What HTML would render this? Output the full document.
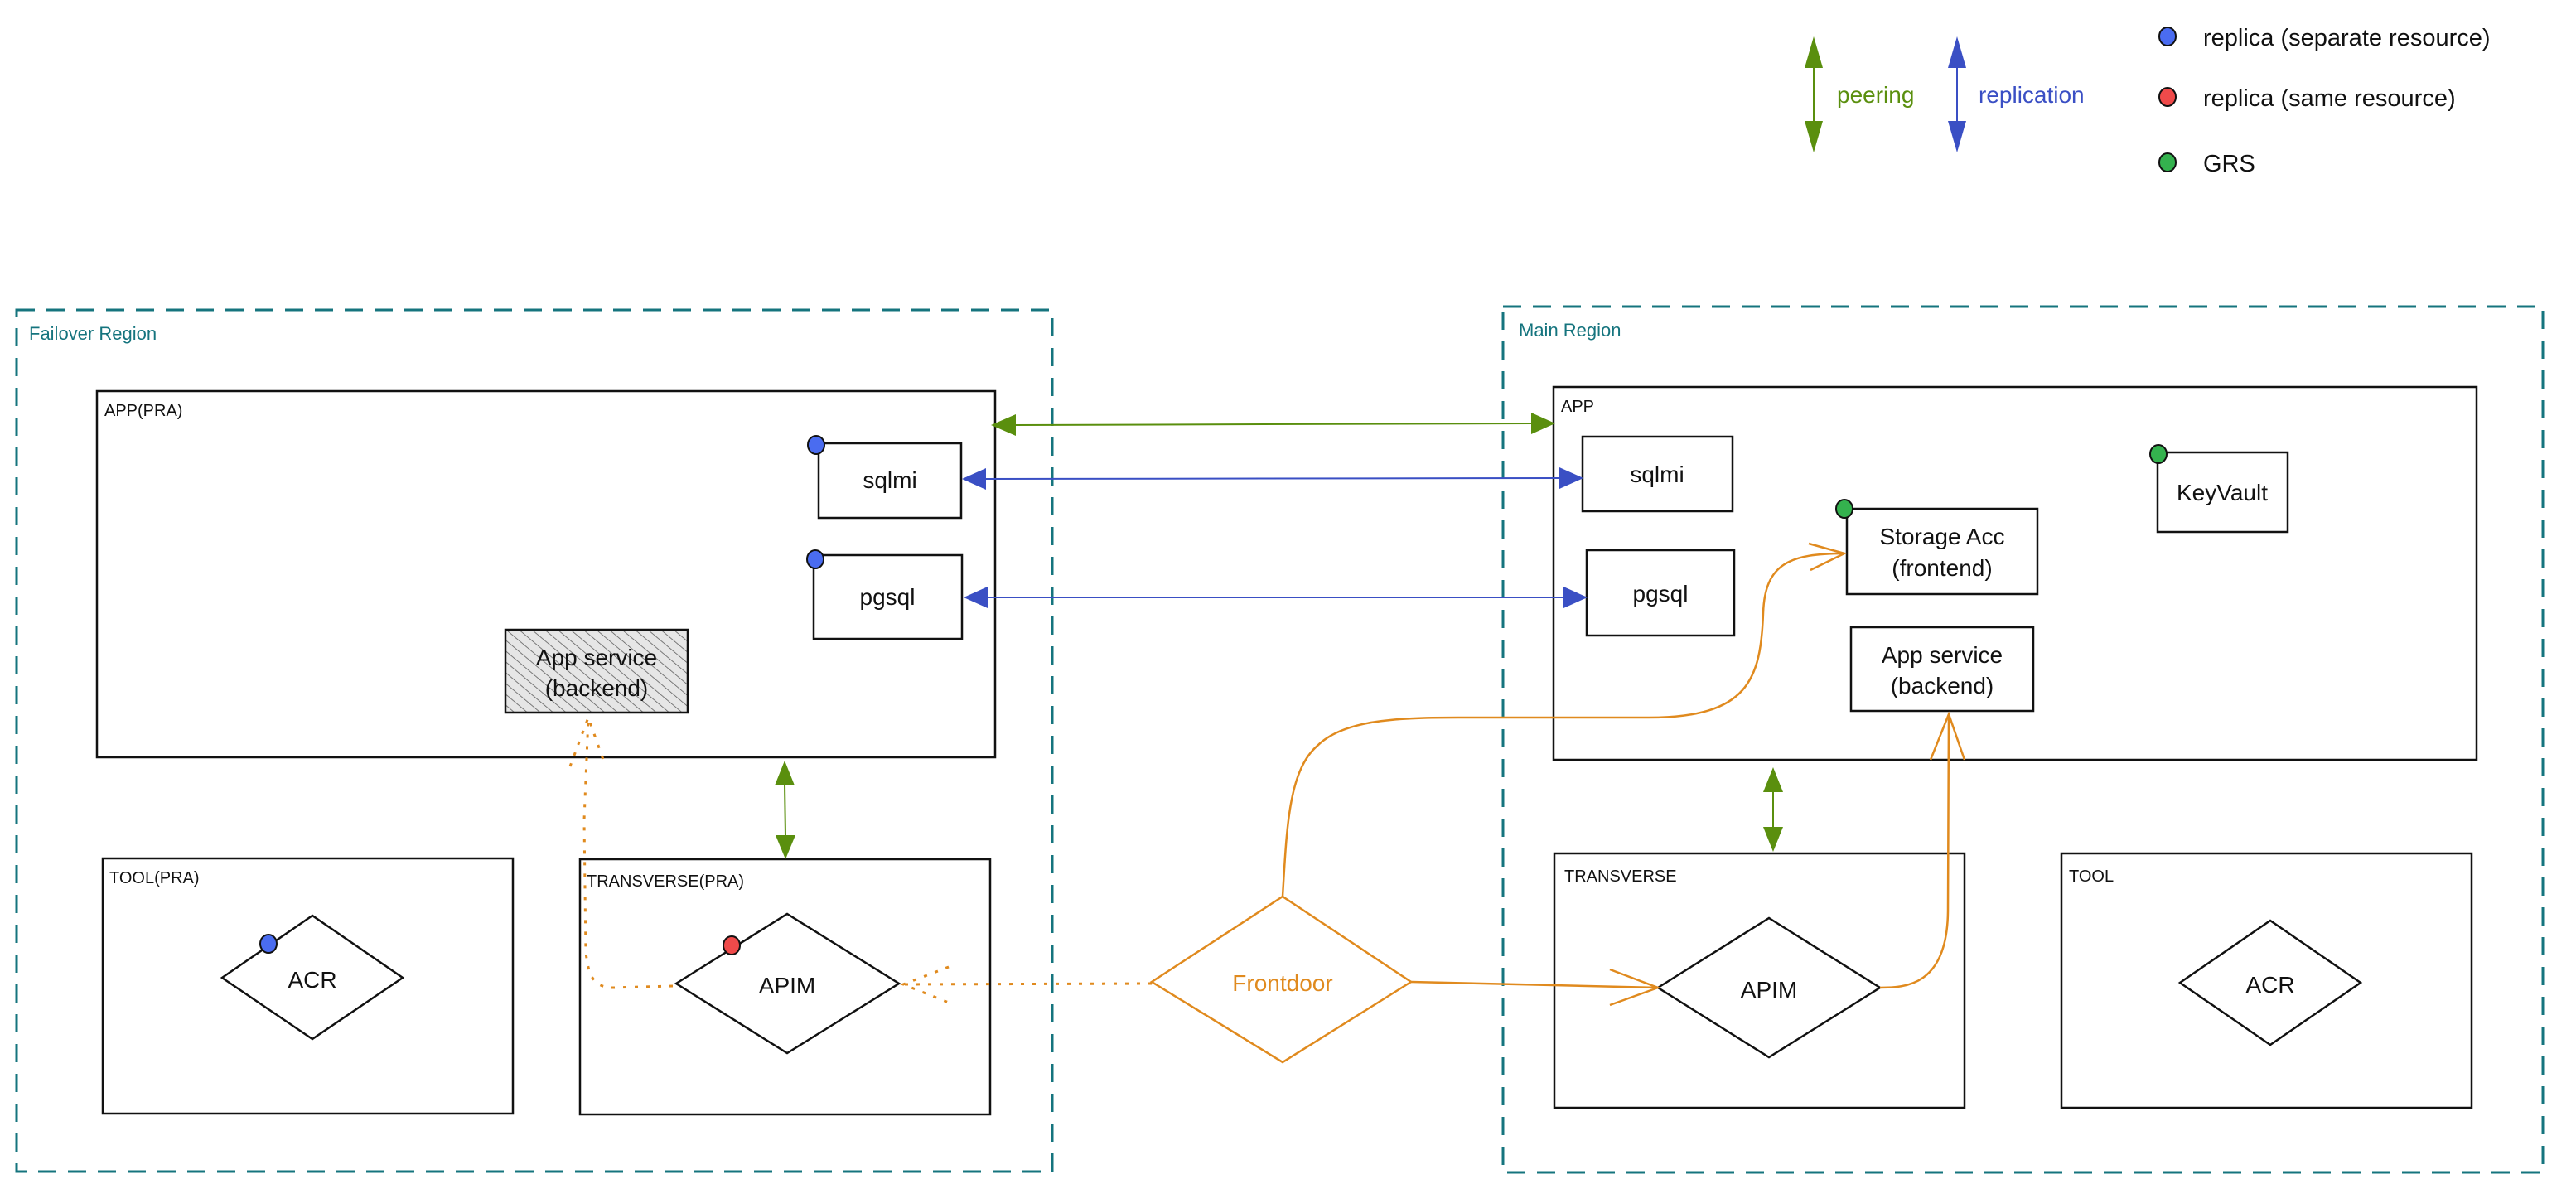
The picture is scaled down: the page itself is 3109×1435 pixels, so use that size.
<!DOCTYPE html>
<html><head><meta charset="utf-8"><style>
html,body{margin:0;padding:0;background:#fff;}
svg{display:block;}
text{font-family:"Liberation Sans",sans-serif;}
</style></head><body>
<svg width="3109" height="1435" viewBox="0 0 3109 1435" xmlns="http://www.w3.org/2000/svg">
<defs>
<pattern id="hatch" patternUnits="userSpaceOnUse" width="10" height="10" patternTransform="rotate(-50)">
<rect width="10" height="10" fill="#e6e6e6"/>
<line x1="0" y1="0" x2="0" y2="10" stroke="#555" stroke-width="1.5"/>
</pattern>
</defs>
<rect width="3109" height="1435" fill="#fff"/>

<!-- Legend -->
<g>
<line x1="2189" y1="80" x2="2189" y2="150" stroke="#5a8f0e" stroke-width="2"/>
<polygon points="2189,44 2178,82 2200,82" fill="#5a8f0e"/>
<polygon points="2189,184 2178,146 2200,146" fill="#5a8f0e"/>
<text x="2217" y="124" font-size="28" fill="#5a8f0e">peering</text>
<line x1="2362" y1="80" x2="2362" y2="150" stroke="#3a4fc4" stroke-width="2"/>
<polygon points="2362,44 2351,82 2373,82" fill="#3a4fc4"/>
<polygon points="2362,184 2351,146 2373,146" fill="#3a4fc4"/>
<text x="2388" y="124" font-size="28" fill="#3a4fc4">replication</text>
<ellipse cx="2616" cy="44" rx="10" ry="11" fill="#4a6cf0" stroke="#111" stroke-width="2"/>
<ellipse cx="2616" cy="117" rx="10" ry="11" fill="#ef4a4a" stroke="#111" stroke-width="2"/>
<ellipse cx="2616" cy="196" rx="10" ry="11" fill="#34b24e" stroke="#111" stroke-width="2"/>
<text x="2659" y="55" font-size="29" fill="#111">replica (separate resource)</text>
<text x="2659" y="128" font-size="29" fill="#111">replica (same resource)</text>
<text x="2659" y="207" font-size="29" fill="#111">GRS</text>
</g>

<!-- Regions -->
<rect x="20" y="374" width="1250" height="1040" fill="none" stroke="#15747e" stroke-width="3" stroke-dasharray="22,14"/>
<text x="35" y="410" font-size="22" fill="#15747e">Failover Region</text>
<rect x="1814" y="370" width="1255" height="1045" fill="none" stroke="#15747e" stroke-width="3" stroke-dasharray="22,14"/>
<text x="1833" y="406" font-size="22" fill="#15747e">Main Region</text>

<!-- Failover boxes -->
<g stroke="#111" stroke-width="2.5" fill="none">
<rect x="117" y="472" width="1084" height="442"/>
<rect x="988" y="535" width="172" height="90"/>
<rect x="982" y="670" width="179" height="101"/>
<rect x="610" y="760" width="220" height="100" fill="url(#hatch)"/>
<rect x="124" y="1036" width="495" height="308"/>
<rect x="700" y="1037" width="495" height="308"/>
<polygon points="268,1180 377,1105 486,1180 377,1254"/>
<polygon points="816,1187 950,1103 1085,1187 950,1271"/>
</g>
<g font-size="20" fill="#111">
<text x="126" y="502">APP(PRA)</text>
<text x="132" y="1066">TOOL(PRA)</text>
<text x="708" y="1070">TRANSVERSE(PRA)</text>
</g>
<g font-size="28" fill="#111" text-anchor="middle">
<text x="1074" y="589">sqlmi</text>
<text x="1071" y="730">pgsql</text>
<text x="720" y="803">App service</text>
<text x="720" y="840">(backend)</text>
<text x="377" y="1192">ACR</text>
<text x="950" y="1199">APIM</text>
</g>
<ellipse cx="985" cy="537" rx="10" ry="11" fill="#4a6cf0" stroke="#111" stroke-width="2"/>
<ellipse cx="984" cy="675" rx="10" ry="11" fill="#4a6cf0" stroke="#111" stroke-width="2"/>
<ellipse cx="324" cy="1139" rx="10" ry="11" fill="#4a6cf0" stroke="#111" stroke-width="2"/>
<ellipse cx="883" cy="1141" rx="10" ry="11" fill="#ef4a4a" stroke="#111" stroke-width="2"/>

<!-- Main boxes -->
<g stroke="#111" stroke-width="2.5" fill="none">
<rect x="1875" y="467" width="1114" height="450"/>
<rect x="1910" y="527" width="181" height="90"/>
<rect x="1915" y="664" width="178" height="103"/>
<rect x="2229" y="614" width="230" height="103"/>
<rect x="2604" y="546" width="157" height="96"/>
<rect x="2234" y="757" width="220" height="101"/>
<rect x="1876" y="1030" width="495" height="307"/>
<rect x="2488" y="1030" width="495" height="307"/>
<polygon points="2001,1192 2135,1108 2269,1192 2135,1276"/>
<polygon points="2631,1186 2740,1111 2849,1186 2740,1261"/>
</g>
<g font-size="20" fill="#111">
<text x="1884" y="497">APP</text>
<text x="1888" y="1064">TRANSVERSE</text>
<text x="2497" y="1064">TOOL</text>
</g>
<g font-size="28" fill="#111" text-anchor="middle">
<text x="2000" y="582">sqlmi</text>
<text x="2004" y="726">pgsql</text>
<text x="2344" y="657">Storage Acc</text>
<text x="2344" y="695">(frontend)</text>
<text x="2682" y="604">KeyVault</text>
<text x="2344" y="800">App service</text>
<text x="2344" y="837">(backend)</text>
<text x="2135" y="1204">APIM</text>
<text x="2740" y="1198">ACR</text>
</g>
<ellipse cx="2226" cy="614" rx="10" ry="11" fill="#34b24e" stroke="#111" stroke-width="2"/>
<ellipse cx="2605" cy="548" rx="10" ry="11" fill="#34b24e" stroke="#111" stroke-width="2"/>

<!-- Frontdoor -->
<polygon points="1390,1185 1548,1082 1703,1185 1548,1282" fill="none" stroke="#e08a1e" stroke-width="2.5"/>
<text x="1548" y="1196" font-size="28" fill="#e08a1e" text-anchor="middle">Frontdoor</text>

<!-- Peering arrows -->
<g stroke="#5a8f0e" stroke-width="2" fill="#5a8f0e">
<line x1="1225" y1="513" x2="1850" y2="511"/>
<polygon points="1196,513 1226,500 1226,526" stroke="none"/>
<polygon points="1877,511 1848,498 1848,524" stroke="none"/>
<line x1="947" y1="945" x2="948" y2="1010"/>
<polygon points="947,918 935,948 959,948" stroke="none"/>
<polygon points="948,1037 936,1008 960,1008" stroke="none"/>
<line x1="2140" y1="950" x2="2140" y2="1002"/>
<polygon points="2140,926 2128,956 2152,956" stroke="none"/>
<polygon points="2140,1028 2128,998 2152,998" stroke="none"/>
</g>

<!-- Replication arrows -->
<g stroke="#3a4fc4" stroke-width="2" fill="#3a4fc4">
<line x1="1188" y1="578" x2="1885" y2="577"/>
<polygon points="1161,578 1190,565 1190,591" stroke="none"/>
<polygon points="1911,577 1882,564 1882,590" stroke="none"/>
<line x1="1190" y1="721" x2="1890" y2="721"/>
<polygon points="1163,721 1192,708 1192,734" stroke="none"/>
<polygon points="1916,721 1887,708 1887,734" stroke="none"/>
</g>

<!-- Orange connectors -->
<g stroke="#e08a1e" stroke-width="2.5" fill="none">
<path d="M1548,1082 C1553,1000 1555,930 1590,900 C1620,870 1680,866 1760,866 L1990,866 C2110,866 2125,820 2128,740 C2130,680 2160,668 2226,668"/>
<path d="M2183,656 L2226,668 L2185,688"/>
<path d="M1703,1185 L2001,1192"/>
<path d="M1943,1170 L2001,1192 L1943,1213"/>
<path d="M2269,1192 C2300,1192 2350,1190 2351,1100 L2352,862"/>
<path d="M2330,917 L2352,862 L2371,917"/>
</g>
<g stroke="#e08a1e" stroke-width="3" fill="none" stroke-dasharray="4,10">
<path d="M1390,1187 L1090,1188"/>
<path d="M1145,1167 L1090,1188 L1145,1210"/>
<path d="M812,1190 L740,1192 C712,1192 710,1170 707,1150 L705,990 L710,866"/>
<path d="M688,925 L710,866 L731,925"/>
</g>
</svg>
</body></html>
